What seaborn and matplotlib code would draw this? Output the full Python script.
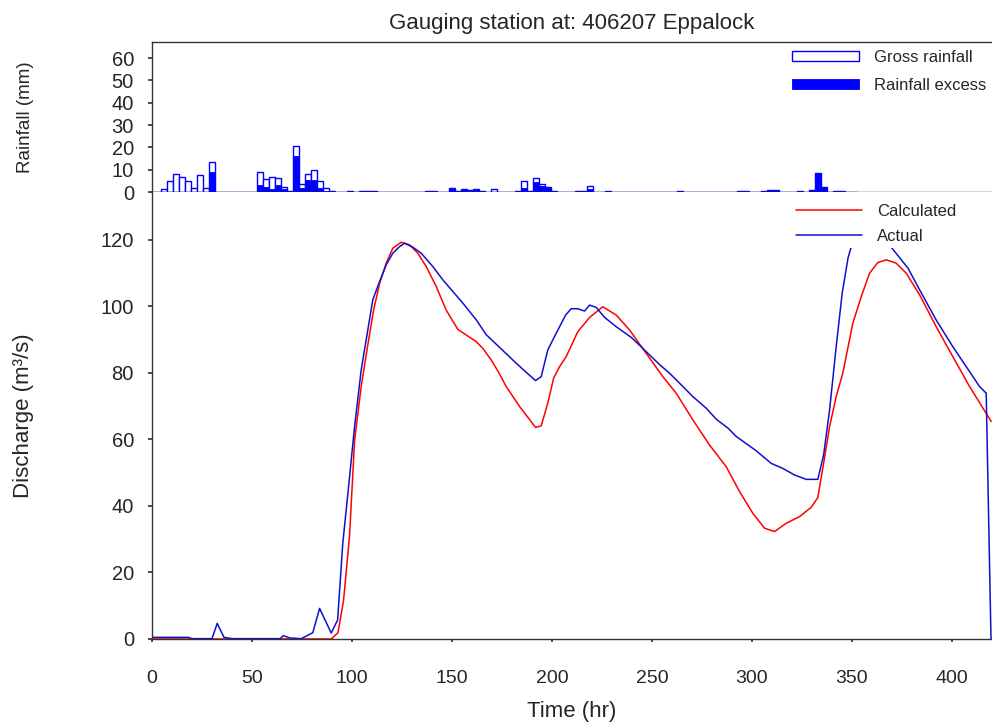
import numpy as np
import pandas as pd
import matplotlib
matplotlib.use("Agg")
import matplotlib.pyplot as plt
import seaborn as sns

# ---------------- data ----------------
title = "Gauging station at: 406207 Eppalock"

# rainfall in 3-hour blocks, hours 0, 3, ..., 351
rain_hours = list(range(0, 354, 3))
gross_rain = [0, 0, 1.5, 5.0, 7.9, 6.9, 5.0, 1.7, 7.5, 1.7,
              13.4, 0, 0, 0, 0, 0, 0, 0, 9.0, 5.7,
              6.6, 6.1, 2.4, 0.5, 20.6, 3.6, 7.9, 9.9, 5.1, 1.8,
              0.6, 0, 0, 0.3, 0, 0.3, 0.3, 0.3, 0, 0,
              0, 0, 0, 0, 0, 0, 0.3, 0.3, 0, 0,
              1.9, 0.5, 1.5, 0.7, 1.2, 0.5, 0, 1.5, 0, 0,
              0, 0.3, 4.8, 0.3, 6.3, 3.6, 2.4, 0.3, 0, 0,
              0, 0.3, 0.5, 2.7, 0, 0, 0.6, 0, 0, 0,
              0, 0, 0, 0, 0, 0, 0, 0, 0.6, 0,
              0, 0, 0, 0, 0, 0, 0, 0, 0.6, 0.3,
              0, 0, 0.5, 0.9, 0.9, 0, 0, 0, 0.5, 0,
              1.0, 8.7, 2.4, 0, 0.3, 0.3, 0, 0]
excess_rain = [0, 0, 0, 0, 0, 0, 0, 0, 0, 0,
               9.0, 0, 0, 0, 0, 0, 0, 0, 3.1, 2.2,
               1.2, 3.1, 1.2, 0, 16.1, 1.7, 5.4, 5.4, 1.8, 0.5,
               0, 0, 0, 0, 0, 0, 0, 0, 0, 0,
               0, 0, 0, 0, 0, 0, 0, 0, 0, 0,
               1.5, 0.4, 0.8, 0.5, 0.8, 0.3, 0, 0, 0, 0,
               0, 0, 1.7, 0, 4.6, 2.7, 1.7, 0, 0, 0,
               0, 0, 0, 1.2, 0, 0, 0, 0, 0, 0,
               0, 0, 0, 0, 0, 0, 0, 0, 0.5, 0,
               0, 0, 0, 0, 0, 0, 0, 0, 0.5, 0,
               0, 0, 0.4, 0.8, 0.8, 0, 0, 0, 0.4, 0,
               0.9, 8.5, 2.2, 0, 0, 0, 0, 0]

# actual discharge (m3/s)
actual_t = [0, 18, 20, 30, 32.6, 36, 40, 64, 65.7, 69, 74.6, 80.4, 83.8, 89.6,
            92.8, 95.4, 98.8, 101.3, 104.6, 107.9, 110.4, 113.8, 117.1, 120.4,
            123.8, 126.3, 130.4, 134.6, 140.4, 145.4, 150.4, 155.4, 162.1, 167.1,
            173.4, 180.4, 185.4, 191.8, 194.6, 197.9, 200.8, 203.8, 206.8, 209.6,
            212.9, 216.3, 218.8, 222.1, 226.3, 232.1, 239.6, 247.1, 253.8, 258.8,
            263.8, 270.4, 277.1, 282.1, 288.0, 292.1, 302.1, 309.6, 315.4, 321.3,
            327.1, 332.9, 335.8, 338.8, 342.1, 345.1, 348.0, 350.1, 353.0, 356.5,
            360.0, 368.0, 378.0, 383.8, 392.1, 400.4, 407.1, 413.8, 417.1, 419.5]
actual_q = [0.5, 0.5, 0.1, 0.1, 4.7, 0.5, 0.1, 0.1, 1.0, 0.3, 0.1, 1.9, 9.2, 1.8,
            5.7, 28.8, 48.8, 63.9, 80.9, 92.9, 102.0, 107.5, 112.5, 116.0,
            118.0, 119.0, 117.8, 116.0, 112.0, 108.0, 104.5, 101.0, 96.0, 91.5,
            87.9, 83.9, 81.1, 77.7, 78.9, 86.9, 90.4, 93.9, 97.4, 99.3,
            99.3, 98.6, 100.4, 99.7, 96.7, 93.9, 90.7, 86.4, 82.5, 79.9,
            76.9, 72.9, 69.4, 66.1, 63.4, 60.9, 56.6, 52.8, 51.3, 49.3,
            48.0, 48.0, 55.3, 68.9, 87.9, 104.0, 114.5, 119.0, 122.5, 124.5,
            124.0, 119.0, 111.5, 105.0, 95.9, 87.9, 81.9, 75.9, 73.9, 0.0]

# calculated discharge (m3/s)
calc_t = [0, 89.6, 93.0, 95.8, 98.8, 101.3, 104.6, 107.9, 110.8, 113.8, 117.1,
          120.4, 124.6, 128.8, 132.9, 137.1, 142.1, 147.1, 152.9, 157.1, 162.1,
          165.4, 169.6, 173.4, 177.1, 183.8, 191.8, 194.6, 197.9, 200.8, 203.8,
          207.1, 212.9, 218.8, 225.4, 232.1, 238.8, 247.1, 255.4, 262.1, 270.4,
          278.8, 287.1, 293.8, 300.4, 306.3, 311.3, 317.1, 323.8, 329.6, 332.9,
          335.8, 338.8, 342.1, 345.4, 350.4, 354.6, 358.8, 362.9, 367.1, 372.1,
          377.1, 383.8, 392.1, 400.4, 408.8, 419.6]
calc_q = [0.0, 0.0, 1.9, 11.7, 31.3, 59.8, 75.9, 88.4, 98.9, 106.9, 113.0,
          117.5, 119.3, 118.5, 116.0, 112.0, 106.0, 98.9, 93.1, 91.4, 89.4,
          87.4, 83.9, 80.1, 75.9, 69.9, 63.6, 64.1, 70.9, 78.4, 81.9,
          84.9, 92.4, 96.7, 99.9, 97.4, 92.9, 85.9, 78.9, 73.9, 65.9,
          58.3, 51.8, 44.3, 37.8, 33.3, 32.3, 34.8, 36.8, 39.6, 42.5,
          52.8, 63.9, 72.9, 79.9, 94.9, 102.9, 110.0, 113.2, 114.0, 113.0,
          110.0, 103.5, 93.9, 84.9, 75.9, 65.4]

rain_ticks = [0, 10, 20, 30, 40, 50, 60]
flow_ticks = [0, 20, 40, 60, 80, 100, 120]
time_ticks = [0, 50, 100, 150, 200, 250, 300, 350, 400]

# ---------------- style ----------------
sns.set_theme(style="ticks")
plt.rcParams["font.family"] = ["Liberation Sans", "DejaVu Sans"]
plt.rcParams["axes.linewidth"] = 1.0

BLUE_BAR = "#0000FF"
BLUE_LINE = "#1010CC"
RED = "#FF0000"
SPINE = "#333333"

fig = plt.figure(figsize=(9.92, 7.24), dpi=100)
L, R = 152 / 992, 1.0
ax_r = fig.add_axes([L, 1 - 192 / 724, R - L, (192 - 42) / 724])
ax_q = fig.add_axes([L, 1 - 639 / 724, R - L, (639 - 192) / 724])

# ---- rainfall panel ----
rain_df = pd.DataFrame({"hour": rain_hours, "gross": gross_rain, "excess": excess_rain})
sns.histplot(data=rain_df, x="hour", weights="gross", binwidth=3,
             binrange=(-1.5, 352.5), ax=ax_r,
             color="white", edgecolor=BLUE_BAR, linewidth=1.0, alpha=1,
             label="Gross rainfall")
sns.histplot(data=rain_df, x="hour", weights="excess", binwidth=3,
             binrange=(-1.5, 352.5), ax=ax_r,
             color=BLUE_BAR, edgecolor=BLUE_BAR, linewidth=0.6, alpha=1,
             label="Rainfall excess")
ax_r.set_xlim(0, 420)
ax_r.set_ylim(0, 67.2)
ax_r.set_yticks(rain_ticks)
ax_r.set_xticks([])
ax_r.set_xlabel("")
ax_r.set_ylabel("Rainfall (mm)", fontsize=13.5)
ax_r.yaxis.set_label_coords(-0.141, 0.5)
ax_r.tick_params(axis="y", labelsize=14.5, direction="out", length=3, pad=10,
                 color=SPINE)
for s in ["left", "top", "bottom"]:
    ax_r.spines[s].set_visible(True)
    ax_r.spines[s].set_color(SPINE)
ax_r.spines["right"].set_visible(False)
ax_r.set_title(title, fontsize=16, pad=9)
leg_x = (784 - 152) / 840
leg1 = ax_r.legend(loc="upper left", bbox_to_anchor=(leg_x, 1.0), frameon=False,
                   fontsize=12, handlelength=4.0, handleheight=0.55,
                   labelspacing=0.78, handletextpad=0.9, borderaxespad=0,
                   borderpad=0.5)

# ---- discharge panel ----
actual_df = pd.DataFrame({"t": actual_t, "q": actual_q})
calc_df = pd.DataFrame({"t": calc_t, "q": calc_q})
sns.lineplot(data=calc_df, x="t", y="q", ax=ax_q, color=RED, linewidth=1.1,
             label="Calculated", sort=False)
sns.lineplot(data=actual_df, x="t", y="q", ax=ax_q, color=BLUE_LINE, linewidth=1.1,
             label="Actual", sort=False)
ax_q.set_xlim(0, 420)
ax_q.set_ylim(0, 134.4)
ax_q.set_xticks(time_ticks)
ax_q.set_yticks(flow_ticks)
ax_q.set_xlabel("Time (hr)", fontsize=16, labelpad=10)
ax_q.set_ylabel("Discharge (m³/s)", fontsize=16)
ax_q.yaxis.set_label_coords(-0.140, 0.5)
ax_q.tick_params(axis="y", labelsize=14.5, direction="out", length=3, pad=10,
                 color=SPINE)
ax_q.tick_params(axis="x", labelsize=14, direction="out", length=2.5, pad=20,
                 color=SPINE)
ax_q.spines["top"].set_visible(False)
ax_q.spines["right"].set_visible(False)
ax_q.spines["left"].set_color(SPINE)
ax_q.spines["bottom"].set_color(SPINE)
leg2 = ax_q.legend(loc="upper left", bbox_to_anchor=(leg_x, 1.0), frameon=True,
                   fontsize=12, handlelength=4.0, labelspacing=0.62,
                   handletextpad=0.9, borderaxespad=0.45, borderpad=0.25,
                   fancybox=False)
leg2.get_frame().set_facecolor("white")
leg2.get_frame().set_edgecolor("none")
leg2.get_frame().set_alpha(1)

fig.savefig("out.png", dpi=100)
